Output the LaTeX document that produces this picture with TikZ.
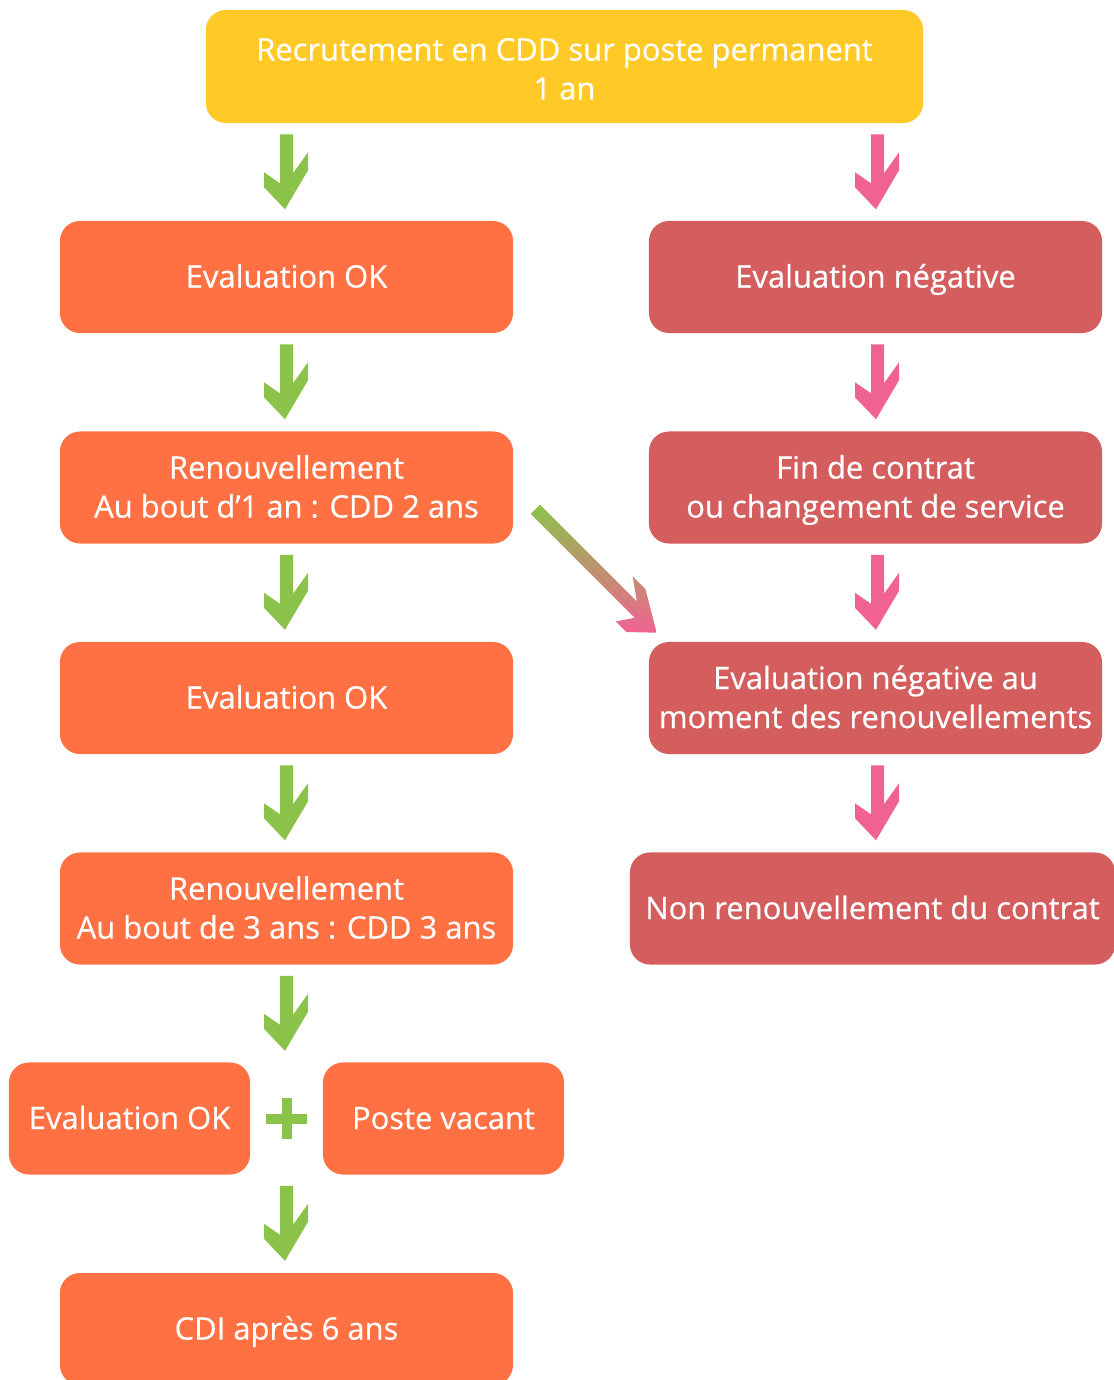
\documentclass[tikz,border=0pt]{standalone}
\usepackage{fontspec}
\setmainfont{Open Sans}[FakeBold=0.5]
\usetikzlibrary{calc}
\definecolor{topyellow}{RGB}{255,202,40}
\definecolor{okorange}{RGB}{255,112,67}
\definecolor{nokred}{RGB}{212,94,94}
\definecolor{okgreen}{RGB}{139,195,74}
\definecolor{nokpink}{RGB}{240,98,146}
\tikzset{
  box/.style = {rounded corners = .5cm, inner sep = 0, align = center, text = white,
    font = \fontsize{22}{27.7}\selectfont, text height = 18pt, text depth = 3pt,
    minimum height = 2.8cm, minimum width = 11.325cm},
  twolines/.style = {text height = 45.7pt},
  okbox/.style = {box, fill = okorange},
  nokbox/.style = {box, fill = nokred},
  pics/chev/.style 2 args = {code = {
    \path[#2] (-5,-75-#1) -- (8,-75-#1) -- (8,-36) -- (23,-57) -- (23,-39) -- (0,0)
      -- (-21,-22) -- (-21,-37) -- (-5,-26) -- cycle;}}
}
\begin{document}
\begin{tikzpicture}[x = .025cm, y = -.025cm]
        \useasboundingbox (0,0) rectangle (1113,1380);
        \node[box, fill = topyellow, minimum width = 17.925cm, minimum height = 2.825cm, text height = 49.9pt] (top) at (564.5,66.5) {Recrutement en CDD sur poste permanent\\1 an};
        \node[okbox] (ok1) at (286.5,277) {Evaluation OK};
        \node[okbox, twolines] (ren1) at (286.5,487.5) {Renouvellement\\Au bout d’1 an : CDD 2 ans};
        \node[okbox] (ok2) at (286.5,698) {Evaluation OK};
        \node[okbox, twolines] (ren2) at (286.5,908.5) {Renouvellement\\Au bout de 3 ans : CDD 3 ans};
        \node[okbox, minimum width = 6.025cm] (ok3) at (129.5,1118.5) {Evaluation OK};
        \node[okbox, minimum width = 6.025cm] (vac) at (443.5,1118.5) {Poste vacant};
        \node[okbox] (cdi) at (286.5,1329) {CDI après 6 ans};
        \node[nokbox] (nok1) at (875.5,277) {Evaluation négative};
        \node[nokbox, twolines] (fin) at (875.5,487.5) {Fin de contrat\\ou changement de service};
        \node[nokbox, twolines] (nok2) at (875.5,698) {Evaluation négative au\\moment des renouvellements};
        \node[nokbox, minimum width = 12.125cm] (non) at (872.5,908.5) {Non renouvellement du contrat};
        \pic at ($(top.south -| ok1)+(-1.5,86)$) {chev={0}{fill=okgreen}};
        \foreach \s in {ok1,ren1,ok2,ren2}
        \pic at ($(\s.south)+(-1.5,86)$) {chev={0}{fill=okgreen}};
        \pic at ($(ok3.south -| cdi)+(-1.5,86)$) {chev={0}{fill=okgreen}};
        \pic at ($(top.south -| nok1)+(.5,86)$) {chev={0}{fill=nokpink}};
        \foreach \s in {nok1,fin,nok2}
        \pic at ($(\s.south)+(.5,86)$) {chev={0}{fill=nokpink}};
        \coordinate (plus) at ($(ok3.east)!.5!(vac.west)$);
        \fill[okgreen] ($(plus)+(-20.5,-5)$) rectangle ($(plus)+(20.5,5)$);
        \fill[okgreen] ($(plus)+(-5,-20.5)$) rectangle ($(plus)+(5,20.5)$);
        \pic[rotate = 45] at ($(nok2.north west)+(8,-9)$) {chev={98}{top color=okgreen, bottom color=nokpink}};
\end{tikzpicture}
\end{document}
